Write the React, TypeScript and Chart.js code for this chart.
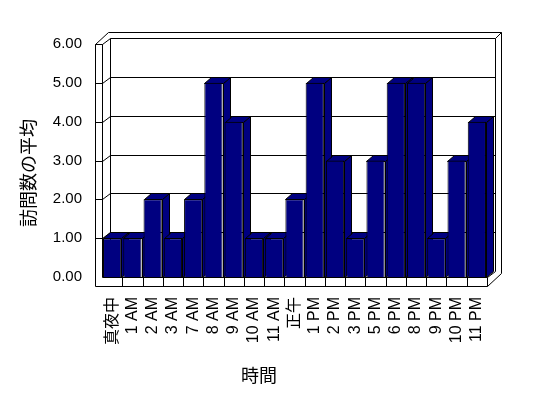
import React, { useEffect, useRef } from 'react';
import { Chart, registerables } from 'chart.js';

Chart.register(...registerables);

const categories = ['真夜中', '1 AM', '2 AM', '3 AM', '7 AM', '8 AM', '9 AM', '10 AM', '11 AM', '正午', '1 PM', '2 PM', '3 PM', '5 PM', '6 PM', '8 PM', '9 PM', '10 PM', '11 PM'];
const averageVisits = [1, 1, 2, 1, 2, 5, 4, 1, 1, 2, 5, 3, 1, 3, 5, 5, 1, 3, 4];
const yTickValues = [0, 1, 2, 3, 4, 5, 6];
const xTitle = '時間';
const yTitle = '訪問数の平均';

const NAVY = '#000080';
const FONT = "'Liberation Sans', 'Noto Sans CJK JP', sans-serif";
const CJK = "'Noto Sans CJK JP', 'Liberation Sans', sans-serif";

// 3D depth offsets
const BDX = 7, BDY = -6; // bars
const WDX = 8, WDY = -6; // walls

const p = (v: number) => Math.round(v) + 0.5;

function seg(ctx: CanvasRenderingContext2D, x1: number, y1: number, x2: number, y2: number) {
  ctx.beginPath();
  ctx.moveTo(p(x1), p(y1));
  ctx.lineTo(p(x2), p(y2));
  ctx.stroke();
}

function poly(ctx: CanvasRenderingContext2D, pts: number[][]) {
  ctx.beginPath();
  pts.forEach(([a, b], i) => (i === 0 ? ctx.moveTo(p(a), p(b)) : ctx.lineTo(p(a), p(b))));
  ctx.closePath();
  ctx.fill();
  ctx.stroke();
}

const frame3d = {
  id: 'frame3d',
  beforeDatasetsDraw(chart: any) {
    const { ctx, chartArea, scales } = chart;
    const { left: L, right: R, top: T, bottom: B } = chartArea;
    const ys = scales.y;
    const xs = scales.x;
    const OL = L - 7; // outer left face
    const OB = B + 9; // outer floor bottom
    const OT = T + WDY - 6; // outer top
    const OR = R + WDX + 6; // outer right
    ctx.save();
    ctx.strokeStyle = '#000';
    ctx.lineWidth = 1;

    // left wall (outer and inner edges)
    seg(ctx, OL, T, OL, OB);
    seg(ctx, OL, T, L, T);
    seg(ctx, L, T, L, B);
    seg(ctx, OL, T, L + 6, OT);
    seg(ctx, L, T, L + WDX, T + WDY);

    // back wall
    seg(ctx, L + 6, OT, OR, OT);
    seg(ctx, L + WDX, T + WDY, R + WDX, T + WDY);
    seg(ctx, L + WDX, T + WDY, L + WDX, B + WDY);
    seg(ctx, R + WDX, T + WDY, R + WDX, B + WDY);
    seg(ctx, R + WDX, T + WDY, OR, OT);
    seg(ctx, OR, OT, OR, B + WDY + 2);

    // floor
    seg(ctx, L, B, R, B);
    seg(ctx, OL, OB, R, OB);
    seg(ctx, R, B, R, OB);
    seg(ctx, R, B, R + WDX, B + WDY);
    seg(ctx, R, OB, OR, B + WDY + 2);

    // gridlines on back wall + left wall, tick marks
    yTickValues.forEach((v) => {
      const yy = ys.getPixelForValue(v);
      if (v > 0) {
        seg(ctx, OL, yy, L, yy);
      }
      if (v > 0 && v < 6) {
        seg(ctx, L, yy, L + WDX, yy + WDY);
        seg(ctx, L + WDX, yy + WDY, R + WDX, yy + WDY);
      }
    });

    // category separators on the floor front
    for (let i = 1; i < categories.length; i++) {
      const xb = (xs.getPixelForValue(i - 1) + xs.getPixelForValue(i)) / 2;
      seg(ctx, xb, B, xb, OB);
    }

    // bar sides and tops (fronts are drawn by Chart.js afterwards)
    ctx.fillStyle = NAVY;
    const meta = chart.getDatasetMeta(0);
    meta.data.forEach((bar: any) => {
      const { x, y, base, width } = bar.getProps(['x', 'y', 'base', 'width'], true);
      const l = x - width / 2;
      const r = x + width / 2;
      poly(ctx, [[r, y], [r + BDX, y + BDY], [r + BDX, base + BDY], [r, base]]);
      poly(ctx, [[l, y], [l + BDX, y + BDY], [r + BDX, y + BDY], [r, y]]);
    });
    ctx.restore();
  },
  afterDraw(chart: any) {
    const { ctx } = chart;
    ctx.save();
    ctx.fillStyle = '#000';
    ctx.font = `18px ${CJK}`;
    ctx.textAlign = 'center';
    ctx.textBaseline = 'middle';
    ctx.fillText(xTitle, 259, 375);
    ctx.translate(28, 173);
    ctx.rotate(-Math.PI / 2);
    ctx.fillText(yTitle, 0, 0);
    ctx.restore();
  },
};

export default function App() {
  const ref = useRef<HTMLCanvasElement | null>(null);
  useEffect(() => {
    if (!ref.current) return;
    Chart.defaults.color = '#000';
    Chart.defaults.font.family = FONT;
    const chart = new Chart(ref.current, {
      type: 'bar',
      data: {
        labels: categories,
        datasets: [
          {
            data: averageVisits,
            backgroundColor: NAVY,
            borderColor: '#000',
            borderWidth: 1,
            barPercentage: 0.9,
            categoryPercentage: 1,
          },
        ],
      },
      options: {
        animation: false,
        responsive: false,
        maintainAspectRatio: false,
        devicePixelRatio: 1,
        layout: { padding: { top: 44, right: 61, bottom: 0, left: 0 } },
        plugins: { legend: { display: false }, tooltip: { enabled: false }, title: { display: false } },
        scales: {
          x: {
            grid: { display: false, drawTicks: false },
            border: { display: false },
            ticks: {
              autoSkip: false,
              maxRotation: 90,
              minRotation: 90,
              padding: 20,
              font: { size: 16, family: FONT },
              color: '#000',
            },
            afterFit: (scale: any) => {
              scale.height = 121;
            },
          },
          y: {
            min: 0,
            max: 6,
            grid: { display: false, drawTicks: false },
            border: { display: false },
            ticks: {
              stepSize: 1,
              padding: 20,
              font: { size: 15, family: FONT },
              color: '#000',
              callback: (v: any) => Number(v).toFixed(2),
            },
            afterFit: (scale: any) => {
              scale.width = 102;
            },
          },
        },
      },
      plugins: [frame3d],
    });
    return () => chart.destroy();
  }, []);
  return (
    <div style={{ position: 'fixed', left: 0, top: 0, width: 548, height: 398, background: '#fff' }}>
      <canvas ref={ref} width={548} height={398} style={{ display: 'block', width: 548, height: 398 }} />
    </div>
  );
}
